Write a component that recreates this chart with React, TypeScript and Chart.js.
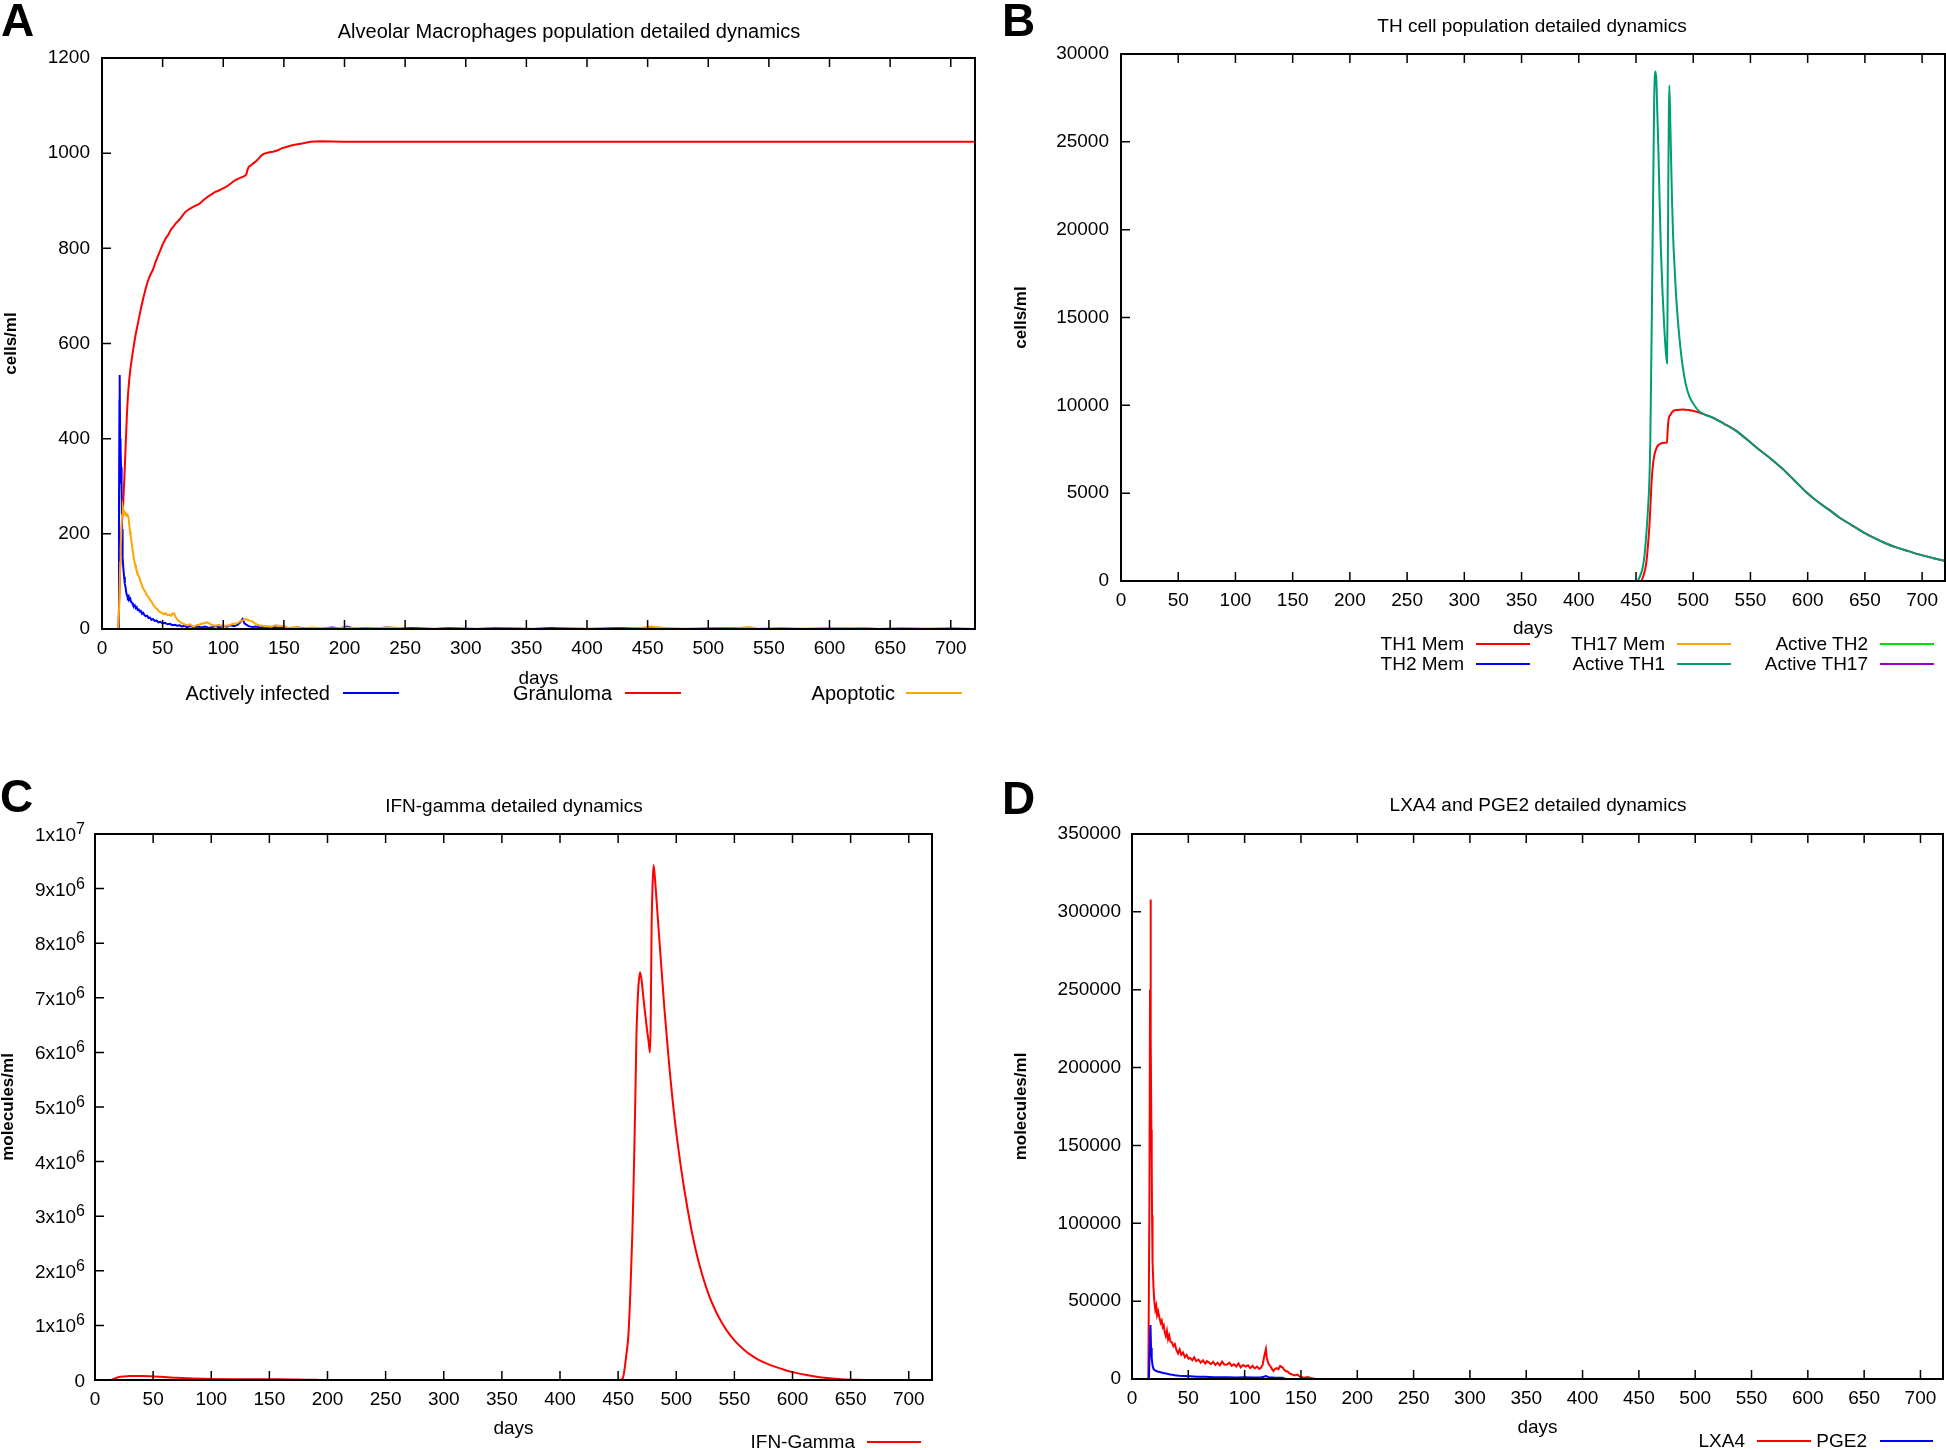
import React, { useEffect, useRef } from 'react';
import { Chart, registerables } from 'chart.js';

Chart.register(...registerables);

const FONT = '"Liberation Sans", Arial, Helvetica, sans-serif';

// ---------- shared x axis ----------
const X_MIN = 0;
const X_MAX = 720;
const X_TICKS = [0, 50, 100, 150, 200, 250, 300, 350, 400, 450, 500, 550, 600, 650, 700];

// ---------- Panel A: Alveolar Macrophages ----------
const A_Y_MAX = 1200;
const A_Y_TICKS = [0, 200, 400, 600, 800, 1000, 1200];
const A_ACTIVELY_INFECTED = [
  [13.5, 0], [14.0, 250], [14.4, 480], [14.6, 534], [14.9, 400], [15.2, 306], [15.4, 384], [15.7, 340], [16.0, 310],
  [16.3, 292], [16.6, 210], [16.8, 180], [17.2, 150], [17.6, 128], [18.2, 110], [18.8, 96], [19.4, 88], [20.1, 75],
  [20.7, 70], [21.3, 66], [22.0, 69], [22.6, 62], [23.3, 64], [24.0, 57], [24.8, 55], [25.5, 51], [26.2, 48],
  [27.0, 50], [27.8, 44], [28.6, 46], [29.4, 40], [30.3, 41], [31.2, 37], [32.1, 38], [33.0, 32], [34.0, 34],
  [35.0, 29], [36.0, 27], [37.2, 28], [38.4, 23], [39.6, 24], [40.8, 19], [42.0, 21], [43.5, 17], [45, 18],
  [46.5, 14], [48, 15], [50, 12], [52, 13], [54, 10], [56, 11], [58, 8], [60, 9], [62, 7], [64, 8], [66, 5],
  [68, 7], [70, 4], [73, 6], [76, 3], [79, 5], [82, 3], [85, 5], [88, 2], [91, 4], [94, 6], [97, 3], [100, 7],
  [103, 5], [106, 8], [109, 6], [112, 9], [114, 14], [116, 21], [117.5, 12], [119, 9], [121, 6], [124, 4],
  [127, 5], [130, 3], [134, 5], [138, 2], [142, 4], [146, 2], [150, 3], [156, 1], [162, 3], [168, 1], [175, 2],
  [182, 1], [190, 3], [196, 1], [202, 5], [208, 1], [215, 2], [225, 1], [235, 3], [245, 1], [255, 2], [265, 1],
  [275, 0], [285, 2], [295, 1], [310, 0], [325, 2], [340, 1], [355, 0], [370, 2], [385, 1], [400, 0], [415, 1],
  [430, 2], [445, 1], [455, 3], [465, 1], [480, 0], [500, 1], [520, 2], [540, 0], [560, 1], [580, 0], [600, 1],
  [620, 2], [640, 0], [660, 1], [680, 0], [700, 1], [720, 0],
];
const A_GRANULOMA = [
  [13.5, 0], [14.5, 90], [15.5, 170], [16.5, 225], [17.5, 265], [18.5, 320], [19.5, 385], [20.6, 454], [21.5, 495],
  [22.5, 525], [23.5, 548], [25, 575], [26.5, 600], [28, 622], [30, 647], [32, 672], [34, 695], [36, 715],
  [38, 733], [40, 745], [42, 755], [44, 770], [46, 783], [48, 795], [50, 808], [52.6, 821], [55, 830], [57, 840],
  [59, 846], [61, 853], [63, 858], [65, 864], [67, 871], [69, 877], [70.6, 880], [73, 884], [76, 888], [79, 892],
  [81, 895], [84, 902], [87, 908], [90, 913], [93, 918], [96, 921], [99, 925], [101.5, 928], [104, 932],
  [107, 938], [109, 942], [112, 946], [115, 949], [117, 951], [119, 955], [120, 965], [121, 971], [123, 975],
  [125, 979], [127, 983], [129, 988], [131, 994], [133, 998], [135, 1000], [138, 1002], [141, 1003], [145, 1006],
  [148, 1010], [152, 1013], [156, 1016], [160, 1018], [164, 1020], [168, 1022], [172, 1024], [180, 1025],
  [200, 1024], [300, 1024], [400, 1024], [500, 1024], [600, 1024], [720, 1024],
];
const A_APOPTOTIC = [
  [13.5, 0], [14.3, 60], [15.0, 140], [15.4, 167], [16.0, 210], [16.6, 240], [17.2, 255], [17.6, 250], [18.2, 240],
  [18.8, 246], [19.6, 243], [20.3, 238], [21.0, 240], [21.8, 236], [22.5, 218], [23.1, 205], [23.7, 194],
  [24.5, 180], [25.3, 165], [26.0, 152], [26.5, 145], [27.3, 135], [28.0, 128], [29.0, 120], [30.0, 112],
  [30.6, 110], [31.5, 102], [32.5, 95], [33.5, 88], [34.7, 82], [35.8, 78], [36.8, 72], [37.8, 68], [38.8, 65],
  [40.0, 60], [41.2, 56], [42.5, 50], [44.3, 44], [45.5, 42], [47.0, 37], [48.5, 35], [49.8, 33], [51, 31],
  [52.5, 33], [54, 29], [55.3, 30], [57, 28], [58.5, 33], [59.4, 33], [60.5, 26], [62, 20], [63.6, 16], [65, 14],
  [67, 11], [69, 9], [71, 8], [72.5, 10], [74.5, 6], [76, 5], [78, 8], [80, 9], [82, 11], [84, 12], [86.9, 14],
  [89, 11], [91, 8], [93.8, 7], [96, 9], [99, 7], [102, 7], [105, 8], [108, 11], [110.3, 11], [112, 13],
  [114, 16], [116, 18], [118.6, 21], [120.5, 19], [122, 17], [124, 16], [126, 12], [128, 9], [130, 8],
  [132.3, 7], [136, 6], [140, 5], [143, 8], [146, 7], [150, 6], [154, 2], [160, 4], [166, 1], [172, 3], [180, 2],
  [190, 1], [200, 3], [210, 2], [220, 1], [230, 2], [240, 3], [250, 1], [260, 0], [280, 1], [300, 0], [330, 1],
  [360, 0], [390, 1], [420, 0], [445, 2], [452, 5], [460, 3], [470, 1], [490, 0], [510, 1], [525, 2], [533, 4],
  [540, 1], [560, 0], [590, 1], [620, 2], [640, 0], [680, 1], [720, 0],
];

// ---------- Panel B: TH cells ----------
const B_Y_MAX = 30000;
const B_Y_TICKS = [0, 5000, 10000, 15000, 20000, 25000, 30000];
const B_SHARED_TAIL = [
  [527, 8950], [537.3, 8560], [547, 8050], [557.7, 7470], [568, 6950], [578, 6390], [588, 5750], [598.4, 5080],
  [608, 4550], [618.8, 4050], [628, 3600], [638, 3200], [648, 2800], [658, 2450], [668, 2150], [678, 1900],
  [688, 1700], [698, 1500], [710, 1300], [720, 1150],
];
const B_TH1_MEM = [
  [0, 0], [454, 0], [456.5, 300], [458.8, 950], [460.3, 1900], [461.7, 3120], [462.7, 4400], [463.7, 5740],
  [464.8, 6600], [466, 7150], [467.5, 7500], [468.9, 7690], [471, 7800], [473.2, 7860], [477.1, 7880],
  [477.6, 8500], [478.5, 9210], [480, 9450], [482, 9650], [486, 9740], [490.7, 9760], [496, 9730],
  [502.3, 9650], [509, 9500], [517, 9300], ...B_SHARED_TAIL,
];
const B_TH2_MEM = [[0, 0], [720, 0]];
const B_TH17_MEM = [[0, 0], [720, 0]];
const B_ACTIVE_TH1 = [
  [0, 0], [451, 0], [453, 200], [455.8, 738], [457.5, 1500], [458.8, 2470], [460.2, 3800], [461.7, 5740],
  [462.5, 8000], [463.1, 11170], [463.9, 15500], [464.6, 19860], [465.3, 24000], [465.9, 27480], [467.0, 29000],
  [467.8, 28500], [468.7, 26500], [469.7, 24220], [470.7, 21400], [471.8, 18780], [473.2, 16400], [474.7, 14430],
  [476.0, 13100], [477.1, 12400], [477.6, 16000], [478.2, 22480], [478.7, 26500], [479.1, 28200], [479.8, 26600],
  [480.6, 24220], [481.5, 21600], [482.5, 19500], [483.5, 18130], [484.8, 16500], [486.3, 15090], [488.3, 13600],
  [490.7, 12260], [493.5, 11200], [496.6, 10510], [500.5, 10050], [505.3, 9650], [511, 9450], [517, 9300],
  ...B_SHARED_TAIL,
];
const B_ACTIVE_TH2 = [[0, 0], [720, 0]];
const B_ACTIVE_TH17 = [[0, 0], [720, 0]];

// ---------- Panel C: IFN-gamma ----------
const C_Y_MAX = 10000000;
const C_Y_TICKS = [0, 1e6, 2e6, 3e6, 4e6, 5e6, 6e6, 7e6, 8e6, 9e6, 1e7];
const C_Y_LABEL_BASES = ['0', '1x10', '2x10', '3x10', '4x10', '5x10', '6x10', '7x10', '8x10', '9x10', '1x10'];
const C_Y_LABEL_EXPONENTS = ['', '6', '6', '6', '6', '6', '6', '6', '6', '6', '7'];
const C_IFN_GAMMA = [
  [14, 0], [16, 20000], [20, 50000], [25, 65000], [30, 72000], [40, 72000], [50, 65000], [60, 55000], [70, 40000],
  [80, 30000], [100, 20000], [120, 15000], [140, 12000], [150, 14000], [160, 13000], [175, 8000], [190, 3000],
  [200, 0], [450, 0], [454, 30000], [455.4, 180000], [457, 450000], [458.9, 840000], [460.5, 1600000],
  [462.3, 2730000], [463.2, 3500000], [464.1, 4380000], [465.0, 5400000], [465.8, 6340000], [466.6, 6850000],
  [467.6, 7250000], [468.8, 7470000], [470, 7350000], [472, 6950000], [474.6, 6460000], [476.2, 6200000],
  [477.4, 6000000], [478.0, 6500000], [478.8, 8300000], [479.7, 9100000], [480.5, 9430000], [482, 9100000],
  [484, 8500000], [486.7, 7700000], [490, 6750000], [493.6, 5850000], [498, 4900000], [504, 3900000],
  [510, 3100000], [516, 2450000], [522, 1950000], [528, 1560000], [534, 1260000], [540, 1020000],
  [546, 830000], [552, 680000], [558, 560000], [564, 460000], [570, 380000], [578, 300000], [586, 235000],
  [594, 180000], [602, 135000], [612, 90000], [622, 55000], [632, 30000], [642, 14000], [655, 4000],
  [670, 0], [720, 0],
];

// ---------- Panel D: LXA4 and PGE2 ----------
const D_Y_MAX = 350000;
const D_Y_TICKS = [0, 50000, 100000, 150000, 200000, 250000, 300000, 350000];
const D_LXA4 = [
  [14.5, 0], [15.5, 120000], [16.0, 250000], [16.4, 308000], [16.8, 220000], [17.2, 160000], [17.5, 140000],
  [17.8, 105000], [18, 92600], [18.5, 75000], [19.1, 58700], [19.8, 50000], [20.7, 44600], [21.5, 47000],
  [22.3, 41000], [23.2, 43500], [24.5, 39000], [25.5, 36000], [26.4, 37500], [27.3, 33300], [28.2, 34500],
  [29.1, 30000], [30, 27700], [31, 31000], [32, 25500], [33, 28000], [34.2, 24000], [35.5, 23400], [36.8, 21000],
  [38, 22500], [39.5, 18500], [40.9, 16400], [42.3, 19000], [43.8, 15500], [45.3, 17000], [47, 14000],
  [48.5, 15500], [50.2, 13000], [51.8, 13500], [53.5, 12000], [55.2, 14000], [57, 11500], [59, 12500],
  [61, 10500], [63, 12000], [65, 10000], [66.5, 11500], [68.2, 10700], [70, 9500], [72, 11000], [74, 9000],
  [76, 10500], [78, 8800], [80, 11200], [82, 9200], [84.5, 9300], [86.5, 10500], [88.5, 8500], [90.5, 9500],
  [92.5, 8000], [94.5, 10000], [96.5, 7500], [98.5, 9000], [100.9, 7900], [103, 8800], [105, 7000], [107, 8500],
  [109, 6800], [111, 8000], [113, 6500], [114.5, 7200], [116, 9000], [117.5, 15000], [118.9, 19200],
  [119.6, 14000], [120.5, 11500], [121.6, 9300], [123, 8000], [124.5, 6200], [125.5, 5100], [127, 6500],
  [128.5, 7000], [130, 6200], [131.5, 8500], [132.5, 7900], [134, 7200], [135, 6000], [136.4, 5100], [138, 4800],
  [140, 3500], [142, 3000], [144.5, 2300], [147, 2800], [149, 1500], [152.7, 850], [156, 1200], [158.5, 600],
  [160.9, 300], [163.6, 0], [720, 0],
];
const D_PGE2 = [
  [15.0, 0], [15.8, 20000], [16.4, 34700], [16.9, 20000], [17.5, 13500], [18.2, 9000], [19.1, 6500], [20.5, 5500],
  [22, 5000], [24.5, 4500], [27, 4000], [30, 3600], [33, 3000], [35.5, 2800], [38, 2400], [42, 2100], [46, 1900],
  [51.8, 1700], [58, 1500], [65, 1400], [72, 1200], [80, 1100], [84.5, 1100], [92, 1000], [100, 1050], [108, 950],
  [114, 1000], [117, 1400], [119, 1900], [121, 1200], [126, 900], [133.6, 850], [136.4, 0], [720, 0],
];

// ---------- colours ----------
const RED = '#ff0000';
const BLUE = '#0000ff';
const ORANGE = '#ffa500';
const TEAL = '#009e73';
const GREEN = '#00e000';
const PURPLE = '#9400d3';

const TICK_FONT = 19;
const YTITLE_FONT = 17;
const SUP_FONT = 16;
const SUP_RAISE = 7;

// ---------- layout ----------
const PANELS: any[] = [
  {
    key: 'A', letter: 'A', letterPos: { left: 1, top: -3 }, textSize: 20,
    title: 'Alveolar Macrophages population detailed dynamics', titlePos: { x: 569, y: 31 },
    canvas: { left: 0, top: 30, width: 990, height: 670 },
    plot: { left: 102, top: 58, right: 975, bottom: 629 },
    yMax: A_Y_MAX, yTicks: A_Y_TICKS, yTitle: 'cells/ml', yTitleX: 11, yLabelPad: 12,
    xTitleY: 679, smooth: false,
    series: [
      { label: 'Actively infected', data: A_ACTIVELY_INFECTED, color: BLUE, order: 1, legend: { right: 330, x1: 343, x2: 399, y: 693 } },
      { label: 'Granuloma', data: A_GRANULOMA, color: RED, order: 2, legend: { right: 612, x1: 625, x2: 681, y: 693 } },
      { label: 'Apoptotic', data: A_APOPTOTIC, color: ORANGE, order: 0, legend: { right: 895, x1: 906, x2: 962, y: 693 } },
    ],
  },
  {
    key: 'B', letter: 'B', letterPos: { left: 1002, top: -3 }, textSize: 19,
    title: 'TH cell population detailed dynamics', titlePos: { x: 1532, y: 26 },
    canvas: { left: 990, top: 30, width: 956, height: 670 },
    plot: { left: 1121, top: 54, right: 1945, bottom: 581 },
    yMax: B_Y_MAX, yTicks: B_Y_TICKS, yTitle: 'cells/ml', yTitleX: 1021.5, yLabelPad: 12,
    xTitleY: 629, smooth: true,
    series: [
      { label: 'TH1 Mem', data: B_TH1_MEM, color: RED, order: 1, legend: { right: 1464, x1: 1476, x2: 1530, y: 644 } },
      { label: 'TH2 Mem', data: B_TH2_MEM, color: BLUE, order: 2, legend: { right: 1464, x1: 1476, x2: 1530, y: 664 } },
      { label: 'TH17 Mem', data: B_TH17_MEM, color: ORANGE, order: 3, legend: { right: 1665, x1: 1677, x2: 1731, y: 644 } },
      { label: 'Active TH1', data: B_ACTIVE_TH1, color: TEAL, order: 0, legend: { right: 1665, x1: 1677, x2: 1731, y: 664 } },
      { label: 'Active TH2', data: B_ACTIVE_TH2, color: GREEN, order: 4, legend: { right: 1868, x1: 1880, x2: 1934, y: 644 } },
      { label: 'Active TH17', data: B_ACTIVE_TH17, color: PURPLE, order: 5, legend: { right: 1868, x1: 1880, x2: 1934, y: 664 } },
    ],
  },
  {
    key: 'C', letter: 'C', letterPos: { left: 0, top: 773 }, textSize: 19,
    title: 'IFN-gamma detailed dynamics', titlePos: { x: 514, y: 806 },
    canvas: { left: 0, top: 800, width: 990, height: 650 },
    plot: { left: 95, top: 834, right: 932, bottom: 1380 },
    yMax: C_Y_MAX, yTicks: C_Y_TICKS, yBases: C_Y_LABEL_BASES, yExps: C_Y_LABEL_EXPONENTS,
    yTitle: 'molecules/ml', yTitleX: 8, yLabelPad: 10,
    xTitleY: 1429, smooth: true,
    series: [
      { label: 'IFN-Gamma', data: C_IFN_GAMMA, color: RED, order: 0, legend: { right: 855, x1: 867, x2: 921, y: 1442 } },
    ],
  },
  {
    key: 'D', letter: 'D', letterPos: { left: 1002, top: 775 }, textSize: 19,
    title: 'LXA4 and PGE2 detailed dynamics', titlePos: { x: 1538, y: 805 },
    canvas: { left: 990, top: 800, width: 956, height: 650 },
    plot: { left: 1132, top: 834, right: 1943, bottom: 1379 },
    yMax: D_Y_MAX, yTicks: D_Y_TICKS, yTitle: 'molecules/ml', yTitleX: 1021.5, yLabelPad: 11,
    xTitleY: 1428, smooth: false,
    series: [
      { label: 'LXA4', data: D_LXA4, color: RED, order: 1, legend: { right: 1745, x1: 1757, x2: 1811, y: 1441 } },
      { label: 'PGE2', data: D_PGE2, color: BLUE, order: 0, legend: { right: 1867, x1: 1880, x2: 1933, y: 1441 } },
    ],
  },
];

// gnuplot-like frame with inward ticks (bottom + mirrored top for x, left for y)
const framePlugin = {
  id: 'gnuFrame',
  afterDatasetsDraw(chart: any) {
    const { ctx, chartArea: a, scales } = chart;
    const xs = scales.x;
    const ys = scales.y;
    const tl = 9;
    ctx.save();
    ctx.strokeStyle = '#000';
    ctx.lineWidth = 1.5;
    ctx.beginPath();
    xs.ticks.forEach((t: any) => {
      const px = xs.getPixelForValue(t.value);
      ctx.moveTo(px, a.bottom);
      ctx.lineTo(px, a.bottom - tl);
      ctx.moveTo(px, a.top);
      ctx.lineTo(px, a.top + tl);
    });
    ys.ticks.forEach((t: any) => {
      const py = ys.getPixelForValue(t.value);
      ctx.moveTo(a.left, py);
      ctx.lineTo(a.left + tl, py);
    });
    ctx.stroke();
    ctx.lineWidth = 2;
    ctx.strokeRect(a.left, a.top, a.right - a.left, a.bottom - a.top);
    ctx.restore();
  },
};

// y tick labels with a raised exponent (e.g. 1x10^6), placed through the y scale
function makeExponentLabelPlugin(spec: any) {
  return {
    id: 'expLabels',
    afterDraw(chart: any) {
      const { ctx, chartArea: a, scales } = chart;
      const ys = scales.y;
      const right = a.left - spec.yLabelPad;
      ctx.save();
      ctx.fillStyle = '#000';
      ctx.textBaseline = 'alphabetic';
      ys.ticks.forEach((t: any, i: number) => {
        const py = ys.getPixelForValue(t.value);
        const base = spec.yBases[i];
        const exp = spec.yExps[i];
        const baseline = py + TICK_FONT * 0.729 / 2;
        ctx.font = `${SUP_FONT}px ${FONT}`;
        const expW = exp ? ctx.measureText(exp).width : 0;
        if (exp) {
          ctx.textAlign = 'left';
          ctx.fillText(exp, right - expW, baseline - SUP_RAISE);
        }
        ctx.font = `${TICK_FONT}px ${FONT}`;
        ctx.textAlign = 'right';
        ctx.fillText(base, right - expW, baseline);
      });
      ctx.restore();
    },
  };
}

function buildChart(canvas: HTMLCanvasElement, spec: any) {
  const cb = spec.canvas;
  const p = spec.plot;
  const cbBottom = cb.top + cb.height;
  const lh = TICK_FONT * 1.2;
  const ylh = YTITLE_FONT * 1.2;
  const useExp = !!spec.yBases;
  const plugins: any[] = [framePlugin];
  if (useExp) plugins.push(makeExponentLabelPlugin(spec));
  return new Chart(canvas, {
    type: 'line',
    data: {
      datasets: spec.series.map((s: any) => ({
        label: s.label,
        data: s.data.map(([x, y]: number[]) => ({ x, y })),
        borderColor: s.color,
        backgroundColor: s.color,
        borderWidth: 2,
        pointRadius: 0,
        pointHoverRadius: 0,
        tension: 0,
        cubicInterpolationMode: spec.smooth ? 'monotone' : 'default',
        fill: false,
        order: s.order,
      })),
    },
    options: {
      responsive: false,
      animation: false,
      devicePixelRatio: 1,
      events: [],
      layout: {
        autoPadding: false,
        padding: { left: 0, top: p.top - cb.top, right: cb.left + cb.width - p.right, bottom: 0 },
      },
      plugins: { legend: { display: false }, tooltip: { enabled: false }, title: { display: false } },
      scales: {
        x: {
          type: 'linear',
          position: 'bottom',
          min: X_MIN,
          max: X_MAX,
          afterBuildTicks: (s: any) => { s.ticks = X_TICKS.map((v) => ({ value: v })); },
          afterFit: (s: any) => { s.height = cbBottom - p.bottom; },
          ticks: {
            autoSkip: false, maxRotation: 0, minRotation: 0, padding: 8, color: '#000',
            font: { family: FONT, size: TICK_FONT },
            callback: (v: any) => String(v),
          },
          grid: { display: false, drawTicks: false },
          border: { display: false },
          title: {
            display: true, text: 'days', color: '#000',
            font: { family: FONT, size: TICK_FONT },
            padding: { top: 0, bottom: cbBottom - spec.xTitleY - lh / 2 },
          },
        },
        y: {
          type: 'linear',
          position: 'left',
          min: 0,
          max: spec.yMax,
          afterBuildTicks: (s: any) => { s.ticks = spec.yTicks.map((v: number) => ({ value: v })); },
          afterFit: (s: any) => { s.width = p.left - cb.left; },
          ticks: {
            display: !useExp,
            autoSkip: false, padding: spec.yLabelPad, color: '#000',
            font: { family: FONT, size: TICK_FONT },
            callback: (v: any) => String(v),
          },
          grid: { display: false, drawTicks: false },
          border: { display: false },
          title: {
            display: true, text: spec.yTitle, color: '#000',
            font: { family: FONT, size: YTITLE_FONT, weight: 'bold' },
            padding: { top: spec.yTitleX - cb.left - ylh / 2, bottom: 0 },
          },
        },
      },
    },
    plugins,
  } as any);
}

const textBase: React.CSSProperties = {
  position: 'absolute',
  whiteSpace: 'nowrap',
  fontFamily: FONT,
  fontSize: TICK_FONT,
  lineHeight: 1.2,
  color: '#000',
  zIndex: 2,
};

export default function App() {
  const refs = useRef<(HTMLCanvasElement | null)[]>([]);

  useEffect(() => {
    const charts = PANELS.map((spec, i) => buildChart(refs.current[i] as HTMLCanvasElement, spec));
    return () => charts.forEach((c) => c.destroy());
  }, []);

  return (
    <div style={{ position: 'absolute', left: 0, top: 0, width: 1946, height: 1450, background: '#fff', overflow: 'hidden' }}>
      {PANELS.map((spec, i) => (
        <canvas
          key={spec.key}
          ref={(el) => { refs.current[i] = el; }}
          width={spec.canvas.width}
          height={spec.canvas.height}
          style={{ position: 'absolute', left: spec.canvas.left, top: spec.canvas.top, width: spec.canvas.width, height: spec.canvas.height, zIndex: 1 }}
        />
      ))}
      {PANELS.map((spec) => (
        <div key={spec.key + '-letter'} style={{ ...textBase, left: spec.letterPos.left, top: spec.letterPos.top, fontSize: 46, fontWeight: 'bold', lineHeight: 1 }}>
          {spec.letter}
        </div>
      ))}
      {PANELS.map((spec) => (
        <div key={spec.key + '-title'} style={{ ...textBase, fontSize: spec.textSize, left: spec.titlePos.x, top: spec.titlePos.y, transform: 'translate(-50%, -50%)' }}>
          {spec.title}
        </div>
      ))}
      {PANELS.map((spec) =>
        spec.series.map((s: any) => (
          <React.Fragment key={spec.key + s.label}>
            <div style={{ ...textBase, fontSize: spec.textSize, left: s.legend.right, top: s.legend.y, transform: 'translate(-100%, -50%)' }}>{s.label}</div>
            <div style={{ position: 'absolute', zIndex: 2, left: s.legend.x1, top: s.legend.y - 1, width: s.legend.x2 - s.legend.x1, height: 2, background: s.color }} />
          </React.Fragment>
        ))
      )}
    </div>
  );
}
